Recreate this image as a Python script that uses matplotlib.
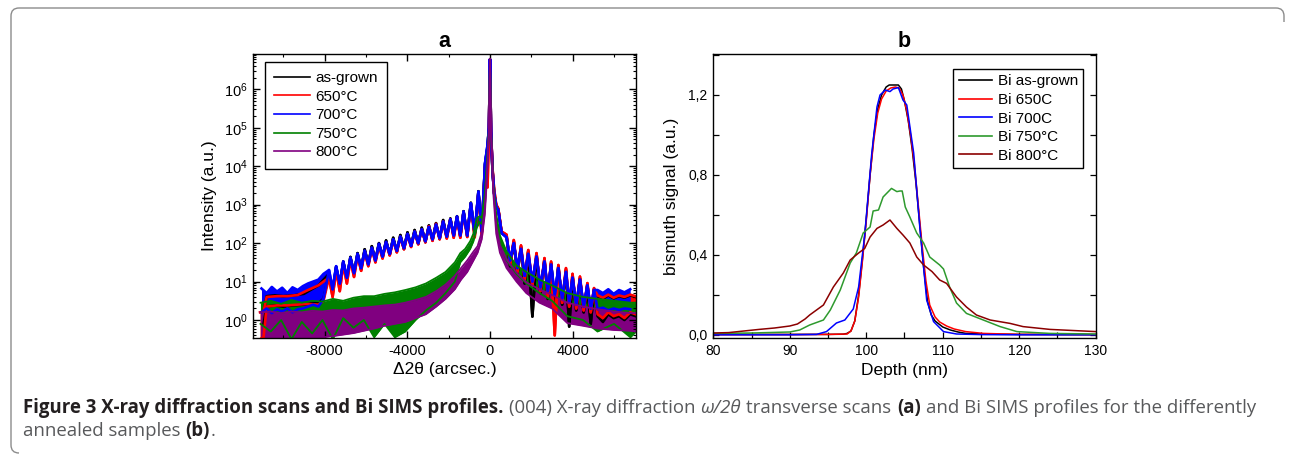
import numpy as np
import matplotlib
matplotlib.use("Agg")
import matplotlib.pyplot as plt
from matplotlib import font_manager
from matplotlib.lines import Line2D
from matplotlib.path import Path
from matplotlib.patches import PathPatch
from matplotlib.transforms import IdentityTransform
from matplotlib.ticker import MultipleLocator, LogLocator, NullFormatter, FuncFormatter

plt.rcParams["font.family"] = ["Liberation Sans", "DejaVu Sans"]
plt.rcParams["mathtext.default"] = "regular"
plt.rcParams["axes.unicode_minus"] = False

# ============================
# Panel a: XRD scans (log10 of intensity)
# ============================
# turning points (max / min) of the thickness fringes, shared by the 3 fringe curves
fringe_x = [-7785, -7610, -7440, -7265, -7095, -6920, -6750, -6575, -6405, -6230,
            -6060, -5885, -5715, -5540, -5370, -5195, -5025, -4850, -4680, -4505,
            -4335, -4160, -3990, -3815, -3645, -3470, -3300, -3125, -2955, -2780,
            -2610, -2435, -2265, -2090, -1916, -1755, -1595, -1435, -1278, -1100,
            -925, -740, -560, -400,
            -240, -120, -50, 0, 50, 120, 200, 300, 400, 560,
            800, 975, 1150, 1325, 1500, 1675, 1850, 2050, 2250, 2440,
            2634, 2795, 2955, 3130, 3305, 3490, 3674, 3830, 3990, 4170,
            4350, 4530, 4709, 4870, 5030]

ag_fringe = [1.20, 0.70, 1.38, 0.88, 1.52, 1.05, 1.64, 1.20, 1.74, 1.32,
             1.84, 1.45, 1.92, 1.55, 2.00, 1.63, 2.07, 1.70, 2.14, 1.78,
             2.21, 1.85, 2.28, 1.92, 2.34, 1.98, 2.40, 2.03, 2.46, 2.08,
             2.52, 2.11, 2.60, 2.15, 2.64, 2.18, 2.70, 2.18, 2.83, 2.18,
             3.05, 2.22, 3.35, 2.28,
             4.05, 4.50, 5.00, 6.78, 4.90, 3.90, 3.30, 2.98, 2.88, 2.28,
             2.18, 1.40, 2.04, 1.20, 1.90, 0.95, 1.78, 0.09, 1.70, 0.70,
             1.57, 0.55, 1.48, 0.45, 1.40, 0.40, 1.30, -0.17, 1.15, 0.25,
             1.08, 0.20, 0.92, -0.10, 0.80]
c650_fringe = [1.10, 0.60, 1.30, 0.75, 1.45, 0.95, 1.58, 1.12, 1.68, 1.28,
               1.78, 1.40, 1.86, 1.50, 1.95, 1.60, 2.02, 1.68, 2.08, 1.76,
               2.16, 1.84, 2.22, 1.90, 2.30, 1.97, 2.36, 2.02, 2.44, 2.06,
               2.50, 2.10, 2.56, 2.12, 2.62, 2.14, 2.66, 2.14, 2.80, 2.16,
               3.00, 2.15, 3.30, 2.20,
               4.00, 3.45, 5.00, 6.78, 4.90, 3.95, 3.40, 3.00, 2.90, 2.30,
               2.22, 1.45, 2.08, 1.25, 1.94, 1.05, 1.82, 0.90, 1.74, 0.75,
               1.61, 0.60, 1.52, -0.40, 1.43, 0.45, 1.35, 0.35, 1.20, 0.30,
               1.13, 0.25, 0.96, 0.20, 0.83]
c700_fringe = [1.30, 0.80, 1.40, 0.95, 1.52, 1.10, 1.62, 1.22, 1.72, 1.35,
               1.80, 1.45, 1.88, 1.55, 1.98, 1.65, 2.03, 1.72, 2.10, 1.80,
               2.17, 1.87, 2.24, 1.93, 2.30, 2.00, 2.36, 2.05, 2.42, 2.10,
               2.48, 2.13, 2.56, 2.17, 2.62, 2.20, 2.69, 2.20, 2.82, 2.20,
               3.04, 2.25, 3.34, 2.30,
               4.08, 4.55, 5.00, 6.78, 4.90, 3.90, 3.30, 2.95, 2.86, 2.26,
               2.15, 1.55, 2.00, 1.35, 1.85, 1.15, 1.72, 1.00, 1.65, 0.85,
               1.52, 0.75, 1.44, 0.65, 1.35, 0.55, 1.25, 0.45, 1.10, 0.40,
               1.05, 0.35, 0.90, 0.30, 0.78]

# noisy left tails (band: lower / upper edge)
ag_left_x = [-10950, -10800, -10400, -10000, -9500, -9000, -8620, -8290, -8050]
ag_left_lo = [-0.10, 0.35, 0.38, 0.35, 0.38, 0.40, 0.44, 0.45, 0.55]
ag_left_hi = [0.22, 0.62, 0.64, 0.62, 0.64, 0.68, 0.80, 0.90, 1.05]

c650_left_x = [-11120, -10950, -10800, -10300, -9800, -9300, -8800, -8300, -8050]
c650_left_lo = [-0.50, -0.45, 0.35, 0.38, 0.38, 0.40, 0.42, 0.40, 0.50]
c650_left_hi = [0.20, 0.22, 0.60, 0.62, 0.62, 0.65, 0.78, 0.90, 1.00]

c700_left_x = [-11050, -10800, -10550, -10300, -10050, -9800, -9550, -9300,
               -9050, -8800, -8550, -8300, -8050]
c700_left_lo = [0.20, 0.30, 0.18, 0.28, 0.22, 0.30, 0.20, 0.28, 0.30, 0.35, 0.40, 0.35, 0.55]
c700_left_hi = [0.82, 0.70, 0.86, 0.74, 0.84, 0.70, 0.85, 0.78, 0.88, 0.95, 1.00, 1.05, 1.20]

# noisy right tails
tail_x = [5200, 5460, 5720, 5980, 6240, 6500, 6780, 7040]
ag_tail_lo = [0.10, -0.05, 0.15, 0.05, 0.10, 0.00, 0.15, 0.10]
ag_tail_hi = [0.62, 0.55, 0.64, 0.56, 0.62, 0.58, 0.64, 0.60]
c650_tail_lo = [0.15, 0.05, 0.20, 0.10, 0.15, 0.05, 0.20, 0.15]
c650_tail_hi = [0.64, 0.58, 0.66, 0.58, 0.64, 0.60, 0.66, 0.62]
c700_tail_x = [5200, 5460, 5720, 5980, 6240, 6500, 6780]
c700_tail_lo = [0.28, 0.32, 0.25, 0.30, 0.26, 0.30, 0.28]
c700_tail_hi = [0.78, 0.70, 0.80, 0.68, 0.78, 0.72, 0.80]

# 750 / 800 C: no fringes, noisy band over the whole range
c750_x = [-11100, -10600, -10100, -9600, -9100, -8600, -8100, -7600, -7100, -6600,
          -6100, -5600, -5100, -4600, -4100, -3600, -3100, -2600, -2150, -1700,
          -1437, -1200, -958, -800, -640, -500, -400, -250, -120, -50,
          0, 50, 80, 160, 300, 480, 800, 1278, 1756, 2395,
          3000, 3740, 4500, 5200, 6000, 6790, 7060]
c750_hi = [0.45, 0.50, 0.42, 0.52, 0.45, 0.50, 0.48, 0.55, 0.50, 0.58,
           0.62, 0.62, 0.68, 0.72, 0.78, 0.85, 0.95, 1.10, 1.25, 1.50,
           1.74, 1.85, 2.05, 2.25, 2.65, 2.70, 2.65, 3.30, 4.30, 5.00,
           6.78, 4.90, 4.60, 3.50, 2.75, 2.20, 1.78, 1.42, 1.25, 1.05,
           0.90, 0.70, 0.60, 0.55, 0.50, 0.45, 0.45]
c750_lo = [-0.10, -0.30, 0.00, -0.50, -0.05, -0.35, 0.00, -0.50, 0.05, -0.20,
           0.00, -0.45, -0.10, -0.45, -0.30, 0.00, 0.25, 0.45, 0.70, 1.00,
           1.50, 1.65, 1.85, 2.05, 2.40, 2.55, 2.50, 3.20, 4.20, 4.90,
           6.70, 4.80, 4.50, 3.40, 2.65, 2.05, 1.55, 1.20, 0.95, 0.70,
           0.50, 0.10, 0.00, -0.30, -0.10, -0.45, -0.30]

c800_x = [-11100, -10600, -10100, -9600, -9100, -8600, -8100, -7600, -7100, -6600,
          -6100, -5600, -5100, -4600, -4100, -3600, -3100, -2600, -2150, -1700,
          -1400, -1100, -800, -600, -400, -250, -120, -50, 0, 50,
          80, 160, 300, 480, 800, 1278, 1756, 2395, 3000, 3740,
          4500, 5200, 6000, 6790, 7060]
c800_hi = [0.20, 0.22, 0.18, 0.22, 0.20, 0.24, 0.22, 0.26, 0.25, 0.30,
           0.32, 0.35, 0.38, 0.40, 0.45, 0.52, 0.60, 0.75, 0.92, 1.15,
           1.35, 1.55, 1.78, 1.92, 2.28, 2.90, 4.10, 5.00, 6.80, 4.90,
           4.60, 3.45, 2.45, 1.95, 1.58, 1.24, 0.98, 0.80, 0.65, 0.45,
           0.35, 0.28, 0.22, 0.18, 0.18]
c800_lo = [-0.50, -0.50, -0.50, -0.50, -0.50, -0.50, -0.45, -0.42, -0.38, -0.34,
           -0.28, -0.22, -0.15, -0.10, -0.05, 0.05, 0.15, 0.35, 0.55, 0.80,
           1.05, 1.25, 1.55, 1.75, 2.10, 2.75, 3.95, 4.85, 6.65, 4.75,
           4.45, 3.30, 2.25, 1.75, 1.35, 1.00, 0.70, 0.45, 0.30, -0.08,
           -0.15, -0.22, -0.26, -0.28, -0.30]

xrd_labels = ["as-grown", "650°C", "700°C", "750°C", "800°C"]
xrd_colors = ["#000000", "#ff0000", "#0000ff", "#008000", "#800080"]

# ============================
# Panel b: Bi SIMS profiles
# ============================
b_ag_x = [80, 90, 95, 97, 97.5, 98.0, 98.5, 99.0, 99.5, 100.0, 100.5, 101.0, 101.5,
          102.0, 102.6, 103.0, 104.2, 104.6, 105.0, 105.5, 106.0, 106.5, 107.0, 107.5,
          108.0, 108.5, 109.0, 110.0, 111.0, 112.0, 113.0, 116.0, 120.0, 130.0]
b_ag_y = [0.003, 0.003, 0.003, 0.004, 0.008, 0.02, 0.07, 0.20, 0.38, 0.58, 0.80, 1.00, 1.13,
          1.20, 1.24, 1.25, 1.25, 1.23, 1.17, 1.07, 0.93, 0.76, 0.55, 0.34,
          0.17, 0.10, 0.07, 0.04, 0.025, 0.015, 0.008, 0.004, 0.003, 0.002]
b_650_x = [80, 90, 95, 97.5, 98.0, 98.5, 99.0, 99.5, 100.0, 100.5, 101.0, 101.5, 102.0,
           102.6, 103.2, 103.8, 104.3, 104.8, 105.3, 105.8, 106.3, 106.8, 107.3, 107.8,
           108.3, 109.0, 109.6, 110.5, 111.5, 113.0, 115.3, 120.0, 130.0]
b_650_y = [0.002, 0.002, 0.003, 0.005, 0.02, 0.07, 0.19, 0.37, 0.57, 0.80, 0.98, 1.11, 1.18,
           1.22, 1.235, 1.24, 1.235, 1.20, 1.12, 1.00, 0.85, 0.65, 0.45, 0.27,
           0.15, 0.09, 0.065, 0.045, 0.03, 0.017, 0.008, 0.003, 0.002]
b_700_x = [80, 90, 93.5, 94.8, 96.1, 97.2, 98.3, 99.0, 99.8, 100.7, 101.4, 101.8, 102.5,
           103.1, 103.5, 104.2, 104.8, 105.3, 106.2, 107.0, 107.9, 108.8, 110.1, 111.8,
           115, 120, 130]
b_700_y = [0.001, 0.001, 0.003, 0.017, 0.06, 0.075, 0.13, 0.24, 0.50, 0.90, 1.14, 1.20, 1.225,
           1.217, 1.23, 1.237, 1.175, 1.15, 0.91, 0.54, 0.175, 0.067, 0.017, 0.005,
           0.002, 0.001, 0.001]
b_750_x = [80, 85, 90, 91.3, 92.6, 94.4, 95.3, 96.6, 97.9, 98.7, 99.6, 100.5, 100.9,
           101.6, 102.2, 103.3, 104.0, 104.4, 104.7, 105.1, 105.7, 106.6, 107.5, 108.3,
           109.6, 110.1, 110.9, 111.8, 113.1, 115.3, 117.5, 119.7, 124.0, 130.0]
b_750_y = [0.008, 0.01, 0.015, 0.025, 0.05, 0.075, 0.125, 0.225, 0.36, 0.41, 0.51, 0.54, 0.62,
           0.625, 0.69, 0.733, 0.717, 0.72, 0.72, 0.64, 0.59, 0.51, 0.46, 0.39,
           0.35, 0.33, 0.24, 0.16, 0.108, 0.075, 0.042, 0.017, 0.008, 0.005]
b_800_x = [80, 82, 84, 86, 88, 90, 91, 92, 92.6, 93.5, 94.4, 95.7, 97.0, 97.9, 99.0,
           99.8, 100.5, 101.4, 102.2, 103.1, 104.0, 104.8, 105.7, 106.6, 107.5, 108.6,
           109.6, 110.5, 111.8, 113.1, 114.4, 116.2, 118.8, 120.5, 124.0, 130.0]
b_800_y = [0.01, 0.012, 0.02, 0.028, 0.035, 0.045, 0.055, 0.08, 0.10, 0.125, 0.15, 0.24, 0.31,
           0.375, 0.41, 0.433, 0.49, 0.533, 0.55, 0.575, 0.533, 0.50, 0.46, 0.39, 0.35,
           0.317, 0.275, 0.258, 0.19, 0.14, 0.10, 0.075, 0.058, 0.042, 0.028, 0.017]

sims_labels = ["Bi as-grown", "Bi 650C", "Bi 700C", "Bi 750°C", "Bi 800°C"]
sims_colors = ["#000000", "#ff0000", "#0000ff", "#2e9a2e", "#8b0000"]

# ============================
# Helpers
# ============================
W, H = 1290, 454


def _band(ax, x, lo, hi, color, lw=1.5):
    x = np.asarray(x, float)
    ylo = 10.0 ** np.asarray(lo, float)
    yhi = 10.0 ** np.asarray(hi, float)
    ax.fill_between(x, ylo, yhi, color=color, lw=0)
    ax.plot(x, ylo, color=color, lw=lw)
    ax.plot(x, yhi, color=color, lw=lw)


def _has_font(name):
    try:
        font_manager.findfont(name, fallback_to_default=False)
        return True
    except ValueError:
        return False


# ============================
# Figure
# ============================
fig = plt.figure(figsize=(W / 100, H / 100), dpi=100)
ax_a = fig.add_axes([253 / W, 1 - 338 / H, 383 / W, 284 / H])
ax_b = fig.add_axes([713.3 / W, 1 - 338 / H, 382.4 / W, 284 / H])

# --- panel a ---
curves = [
    (ag_left_x + fringe_x + tail_x, ag_left_lo + ag_fringe + ag_tail_lo, ag_left_hi + ag_fringe + ag_tail_hi),
    (c650_left_x + fringe_x + tail_x, c650_left_lo + c650_fringe + c650_tail_lo, c650_left_hi + c650_fringe + c650_tail_hi),
    (c700_left_x + fringe_x + c700_tail_x, c700_left_lo + c700_fringe + c700_tail_lo, c700_left_hi + c700_fringe + c700_tail_hi),
    (c750_x, c750_lo, c750_hi),
    (c800_x, c800_lo, c800_hi),
]
for i, ((x, lo, hi), col) in enumerate(zip(curves, xrd_colors)):
    _band(ax_a, x, lo, hi, col, lw=1.9 if i < 3 else 1.3)

ax_a.set_yscale("log")
ax_a.set_xlim(-11460, 7060)
ax_a.set_ylim(10 ** -0.468, 10 ** 6.92)
ax_a.xaxis.set_major_locator(MultipleLocator(4000))
ax_a.xaxis.set_minor_locator(MultipleLocator(2000))
ax_a.yaxis.set_major_locator(LogLocator(base=10, numticks=20))
ax_a.yaxis.set_minor_locator(LogLocator(base=10, subs=np.arange(2, 10), numticks=20))
ax_a.yaxis.set_minor_formatter(NullFormatter())
ax_a.tick_params(which="both", direction="in", top=True, right=True, labelsize=10.5, pad=4)
ax_a.tick_params(which="major", length=5, width=1)
ax_a.tick_params(which="minor", length=2.5, width=0.8)
ax_a.set_xlabel("Δ2θ (arcsec.)", fontsize=12.5, labelpad=3)
ax_a.set_ylabel("Intensity (a.u.)", fontsize=12.5, labelpad=5)
ax_a.set_title("a", fontsize=15.5, fontweight="bold", pad=5)

handles_a = [Line2D([], [], color=c, lw=1.2) for c in xrd_colors]
ax_a.legend(handles_a, xrd_labels, loc="upper left", bbox_to_anchor=(0.031, 0.972),
            borderaxespad=0, fontsize=11, frameon=True, fancybox=False,
            edgecolor="black", framealpha=1, handlelength=2.35, handletextpad=0.35,
            labelspacing=0.3, borderpad=0.6).get_frame().set_linewidth(1.0)

# --- panel b ---
for x, y, col in zip([b_ag_x, b_650_x, b_700_x, b_750_x, b_800_x],
                     [b_ag_y, b_650_y, b_700_y, b_750_y, b_800_y], sims_colors):
    ax_b.plot(x, y, color=col, lw=1.1)

ax_b.set_xlim(80, 130)
ax_b.set_ylim(-0.015, 1.405)
ax_b.xaxis.set_major_locator(MultipleLocator(10))
ax_b.xaxis.set_minor_locator(MultipleLocator(5))
ax_b.yaxis.set_major_locator(MultipleLocator(0.4))
ax_b.yaxis.set_minor_locator(MultipleLocator(0.2))
ax_b.yaxis.set_major_formatter(FuncFormatter(lambda v, p: f"{v:.1f}".replace(".", ",")))
ax_b.tick_params(which="both", direction="in", right=True, labelsize=10, pad=4)
ax_b.tick_params(which="major", length=4, width=0.9)
ax_b.tick_params(which="minor", length=4, width=0.9)
ax_b.set_xlabel("Depth (nm)", fontsize=12.5, labelpad=4)
ax_b.set_ylabel("bismuth signal (a.u.)", fontsize=12.5, labelpad=7)
ax_b.set_title("b", fontsize=15.5, fontweight="bold", pad=5)

handles_b = [Line2D([], [], color=c, lw=1.2) for c in sims_colors]
ax_b.legend(handles_b, sims_labels, loc="upper right", bbox_to_anchor=(0.9676, 0.947),
            borderaxespad=0, fontsize=11, frameon=True, fancybox=False,
            edgecolor="black", framealpha=1, handlelength=2.2, handletextpad=0.35,
            labelspacing=0.3, borderpad=0.35).get_frame().set_linewidth(1.0)

for ax in (ax_a, ax_b):
    for sp in ax.spines.values():
        sp.set_linewidth(1.0)

# ============================
# Caption + frame
# ============================
cap_family = ["Liberation Sans Narrow"] if _has_font("Liberation Sans Narrow") else ["Open Sans", "DejaVu Sans"]
renderer = fig.canvas.get_renderer()

line1 = [("Figure 3 X-ray diffraction scans and Bi SIMS profiles.", "bold", "normal", False),
         ("(004) X-ray diffraction", "normal", "normal", True),
         ("ω/2θ", "normal", "italic", True),
         ("transverse scans", "normal", "normal", True),
         ("(a)", "bold", "normal", True),
         ("and Bi SIMS profiles for the differently", "normal", "normal", True)]
line2 = [("annealed samples", "normal", "normal", False),
         ("(b)", "bold", "normal", True),
         (".", "normal", "normal", False)]


def _width(s, size, weight, style):
    t = fig.text(0, 0, s, fontsize=size, fontweight=weight, fontstyle=style, family=cap_family)
    w = t.get_window_extent(renderer).width
    t.remove()
    return w


def _space(size):
    return _width("a a", size, "normal", "normal") - _width("aa", size, "normal", "normal")


def _line_width(pieces, size):
    total = 0.0
    for s, wt, st, gap in pieces:
        total += (_space(size) if gap else 0) + _width(s, size, wt, st)
    return total


def _draw_line(pieces, x0, y_base, size):
    x = x0
    for s, wt, st, gap in pieces:
        if gap:
            x += _space(size)
        col = "#231f20" if wt == "bold" else "#58595b"
        fig.text(x / W, 1 - y_base / H, s, fontsize=size, fontweight=wt, fontstyle=st,
                 family=cap_family, color=col, va="baseline", ha="left")
        x += _width(s, size, wt, st) + 0.5


cap_size = 10.5
cap_size *= (1258 - 22.7) / _line_width(line1, cap_size)
_draw_line(line1, 22.7, 413, cap_size)
_draw_line(line2, 22.7, 436, cap_size)


# rounded frame (left + top edges), pixel coordinates, y from bottom
def _p(x, y_top):
    return (x, H - y_top)


verts = [_p(19, 453), _p(11, 453), _p(11, 445), _p(11, 16), _p(11, 8), _p(19, 8),
         _p(1276, 8), _p(1284, 8), _p(1284, 16), _p(1284, 22)]
codes = [Path.MOVETO, Path.CURVE3, Path.CURVE3, Path.LINETO, Path.CURVE3, Path.CURVE3,
         Path.LINETO, Path.CURVE3, Path.CURVE3, Path.LINETO]
fig.patches.append(PathPatch(Path(verts, codes), transform=IdentityTransform(),
                             facecolor="none", edgecolor="#8c8c8c", lw=1.0))

fig.savefig("out.png", dpi=100)
